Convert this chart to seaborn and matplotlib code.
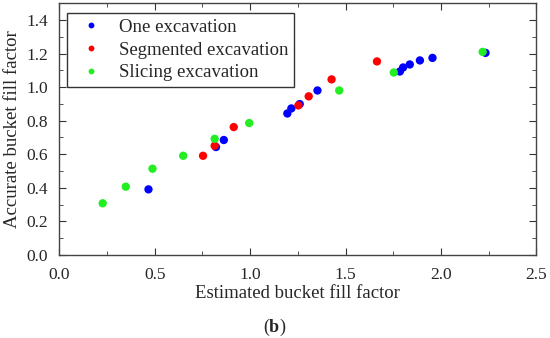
import pandas as pd
import seaborn as sns
import matplotlib.pyplot as plt
from matplotlib.ticker import MultipleLocator

# points
one_x = [0.467, 0.821, 0.862, 1.195, 1.216, 1.26, 1.353, 1.785, 1.802, 1.837, 1.890, 1.956, 2.234]
one_y = [0.391, 0.643, 0.685, 0.843, 0.873, 0.899, 0.980, 1.093, 1.117, 1.135, 1.159, 1.174, 1.204]

seg_x = [0.753, 0.814, 0.914, 1.253, 1.307, 1.427, 1.665]
seg_y = [0.591, 0.651, 0.762, 0.891, 0.945, 1.046, 1.153]

sli_x = [0.227, 0.348, 0.488, 0.649, 0.814, 0.995, 1.467, 1.753, 2.219]
sli_y = [0.308, 0.407, 0.514, 0.591, 0.692, 0.786, 0.980, 1.087, 1.210]

groups = ['One excavation', 'Segmented excavation', 'Slicing excavation']

df = pd.concat([
    pd.DataFrame({'est': one_x, 'acc': one_y, 'type': groups[0]}),
    pd.DataFrame({'est': seg_x, 'acc': seg_y, 'type': groups[1]}),
    pd.DataFrame({'est': sli_x, 'acc': sli_y, 'type': groups[2]}),
])

sns.set_style('ticks')
plt.rcParams['font.family'] = ['Liberation Serif', 'DejaVu Serif']
plt.rcParams['mathtext.fontset'] = 'custom'
plt.rcParams['mathtext.bf'] = 'Liberation Serif:bold'
plt.rcParams['mathtext.rm'] = 'Liberation Serif'

fig = plt.figure(figsize=(5.5, 3.38), dpi=100)
ax = fig.add_axes([0.108, 0.2456, 0.867, 0.745])

sns.scatterplot(data=df, x='est', y='acc', hue='type', hue_order=groups,
                palette=['#0000ff', '#ff0000', '#22ee22'], s=36, linewidth=0,
                ax=ax)

ax.set_xlim(0, 2.5)
ax.set_ylim(0, 1.5)
ax.xaxis.set_major_locator(MultipleLocator(0.5))
ax.xaxis.set_minor_locator(MultipleLocator(0.25))
ax.yaxis.set_major_locator(MultipleLocator(0.2))
ax.yaxis.set_minor_locator(MultipleLocator(0.1))
ax.set_xticklabels([f'{v:.1f}' for v in ax.get_xticks()])
ax.set_yticklabels([f'{v:.1f}' for v in ax.get_yticks()])
ax.tick_params(which='both', direction='in', top=True, right=True,
               labelsize=12.5, color='#333333')
ax.tick_params(which='major', length=5)
ax.tick_params(which='minor', length=3)
ax.tick_params(axis='x', pad=9)
ax.tick_params(axis='y', pad=8)
for sp in ax.spines.values():
    sp.set_color('#444444')
    sp.set_linewidth(1.0)

ax.set_xlabel('Estimated bucket fill factor', fontsize=13.5, labelpad=1)
ax.set_ylabel('Accurate bucket fill factor', fontsize=13.5, labelpad=4)

leg = ax.legend(loc='upper left', bbox_to_anchor=(0.016, 0.96), fontsize=13.5,
                frameon=True, fancybox=False, framealpha=1, edgecolor='#333333',
                borderpad=0.3, labelspacing=0.3, handletextpad=0.45,
                markerscale=0.7, borderaxespad=0)
leg.get_frame().set_linewidth(1.0)

fig.text(0.5, 0.03, r'($\mathbf{b}$)', ha='center', va='center', fontsize=13)

fig.savefig('out.png', dpi=100)
